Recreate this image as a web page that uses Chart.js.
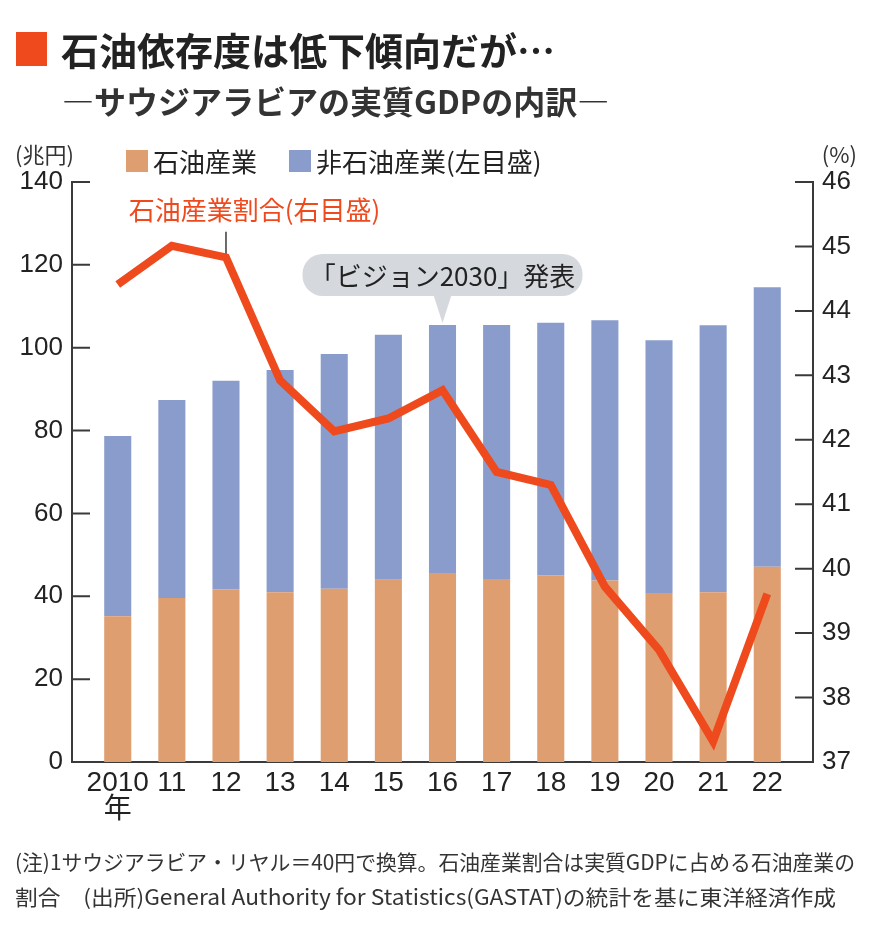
<!DOCTYPE html>
<html lang="ja">
<head>
<meta charset="utf-8">
<script src="https://cdn.jsdelivr.net/npm/chart.js@4.4.1/dist/chart.umd.min.js"></script>
<style>
body { margin: 0; background: #fff; font-family: 'Noto Sans CJK JP', sans-serif; color: #222; }
#wrap { position: relative; width: 870px; height: 946px; overflow: hidden; }
#myChart { position: absolute; left: 0; top: 0; }
.txt { position: absolute; white-space: nowrap; line-height: 1; }
.fit { transform-origin: 0 50%; }
</style>
</head>
<body>
<div id="wrap">
  <canvas id="myChart" width="870" height="946"></canvas>
  <div class="txt" style="left:16px;top:32px;width:31px;height:34px;background:#EF4A1D"></div>
  <div class="txt" style="left:61px;top:30px;font-size:38px;font-weight:700;color:#222">石油依存度は低下傾向だが…</div>
  <div class="txt" style="left:62px;top:84px;font-size:32px;font-weight:700;color:#333">—サウジアラビアの実質GDPの内訳—</div>
  <div class="txt" style="left:15px;top:142px;font-size:22px;color:#333">(兆円)</div>
  <div class="txt" style="right:13px;top:142px;font-size:22px;color:#333">(%)</div>
  <div class="txt" style="left:126px;top:150px;width:22px;height:22px;background:#DF9E70"></div>
  <div class="txt" style="left:153px;top:148px;font-size:26px;color:#222">石油産業</div>
  <div class="txt" style="left:289px;top:150px;width:22px;height:22px;background:#899CCB"></div>
  <div class="txt" style="left:316px;top:148px;font-size:26px;color:#222">非石油産業(左目盛)</div>
  <div class="txt fit" data-w="840" style="left:15px;top:851px;font-size:21px;color:#333">(注)1サウジアラビア・リヤル＝40円で換算。石油産業割合は実質GDPに占める石油産業の</div>
  <div class="txt fit" data-w="821" style="left:15px;top:886px;font-size:21px;color:#333">割合　(出所)General Authority for Statistics(GASTAT)の統計を基に東洋経済作成</div>
</div>
<script>
var years = [2010, 2011, 2012, 2013, 2014, 2015, 2016, 2017, 2018, 2019, 2020, 2021, 2022];
var yearLabels = [['2010', '年'], '11', '12', '13', '14', '15', '16', '17', '18', '19', '20', '21', '22'];
// 兆円
var oilValues = [35.2, 39.6, 41.7, 41.0, 41.8, 44.0, 45.6, 44.2, 45.1, 43.8, 40.8, 41.0, 47.1];
var nonOilValues = [43.5, 47.8, 50.3, 53.6, 56.7, 59.1, 59.9, 61.3, 60.9, 62.8, 61.0, 64.4, 67.5];
// %
var oilShare = [44.41, 45.01, 44.83, 42.92, 42.13, 42.33, 42.77, 41.50, 41.30, 39.72, 38.74, 37.32, 39.61];
var visionYear = 2016;
var shareLabelYear = 2012;

var oilColor = '#DF9E70';
var nonOilColor = '#899CCB';
var lineColor = '#EF4A1D';
var axisColor = '#3a3a3a';
var numFont = "'Liberation Sans', 'Noto Sans CJK JP', sans-serif";
var jpFont = "'Noto Sans CJK JP', sans-serif";

function toPoints(vals) {
  return years.map(function (y, i) { return { x: y, y: vals[i] }; });
}

// inward tick marks on both value axes, plus the label leader
var tickMarks = {
  id: 'tickMarks',
  beforeDatasetsDraw: function (chart) {
    var ctx = chart.ctx, a = chart.chartArea;
    var ys = chart.scales.y, y2 = chart.scales.y2;
    ctx.save();
    ctx.strokeStyle = axisColor;
    ctx.lineWidth = 2;
    ctx.beginPath();
    ys.ticks.forEach(function (t) {
      var p = ys.getPixelForValue(t.value);
      ctx.moveTo(a.left, p); ctx.lineTo(a.left + 18, p);
    });
    y2.ticks.forEach(function (t) {
      var p = y2.getPixelForValue(t.value);
      ctx.moveTo(a.right - 18, p); ctx.lineTo(a.right, p);
    });
    ctx.stroke();

    var i = years.indexOf(shareLabelYear);
    var lx = chart.scales.x.getPixelForValue(shareLabelYear);
    ctx.lineWidth = 1.5;
    ctx.beginPath();
    ctx.moveTo(lx, y2.getPixelForValue(45.57) + 22);
    ctx.lineTo(lx, y2.getPixelForValue(oilShare[i]));
    ctx.stroke();
    ctx.restore();
  },
  afterDatasetsDraw: function (chart) {
    var ctx = chart.ctx;
    var xs = chart.scales.x, ys = chart.scales.y, y2 = chart.scales.y2;
    ctx.save();
    ctx.fillStyle = lineColor;
    ctx.font = '26px ' + jpFont;
    ctx.textAlign = 'left';
    ctx.textBaseline = 'middle';
    ctx.fillText('石油産業割合(右目盛)', xs.getPixelForValue(years[0]) + 11, y2.getPixelForValue(45.57));

    // callout for Vision 2030
    var i = years.indexOf(visionYear);
    var cx = xs.getPixelForValue(visionYear);
    var tip = ys.getPixelForValue(oilValues[i] + nonOilValues[i]) - 2;
    var bottom = tip - 27, h = 42, w = 280;
    ctx.fillStyle = '#D5D9DE';
    ctx.beginPath();
    ctx.roundRect(cx - w / 2, bottom - h, w, h, 20);
    ctx.fill();
    ctx.beginPath();
    ctx.moveTo(cx - 9, bottom - 1);
    ctx.lineTo(cx + 9, bottom - 1);
    ctx.lineTo(cx, tip);
    ctx.closePath();
    ctx.fill();
    ctx.fillStyle = '#222';
    ctx.textAlign = 'center';
    ctx.fillText('「ビジョン2030」発表', cx, bottom - h / 2 + 1);
    ctx.restore();
  }
};

var data = {
  datasets: [{
    type: 'line',
    label: '石油産業割合',
    data: toPoints(oilShare),
    yAxisID: 'y2',
    borderColor: lineColor,
    borderWidth: 8,
    pointRadius: 0,
    tension: 0,
    borderJoinStyle: 'miter',
    order: 0
  }, {
    label: '石油産業',
    data: toPoints(oilValues),
    backgroundColor: oilColor,
    stack: 'gdp',
    order: 1
  }, {
    label: '非石油産業',
    data: toPoints(nonOilValues),
    backgroundColor: nonOilColor,
    stack: 'gdp',
    order: 2
  }]
};

var config = {
  type: 'bar',
  data: data,
  options: {
    responsive: false,
    animation: false,
    categoryPercentage: 1,
    barPercentage: 0.5,
    layout: { padding: { top: 182, bottom: 100, left: 0, right: 0 } },
    plugins: {
      legend: { display: false },
      tooltip: { enabled: false },
      title: { display: false }
    },
    scales: {
      x: {
        type: 'linear',
        offset: false,
        stacked: true,
        min: years[0] - 0.845,
        max: years[years.length - 1] + 0.845,
        afterBuildTicks: function (s) { s.ticks = years.map(function (v) { return { value: v }; }); },
        afterFit: function (s) { s.height = 84; },
        grid: { display: false, offset: false, drawTicks: false },
        border: { display: true, color: axisColor, width: 2 },
        ticks: {
          autoSkip: false,
          maxRotation: 0,
          padding: 8,
          color: '#222',
          font: { family: numFont, size: 28, lineHeight: 0.97 },
          callback: function (v, i) { return yearLabels[i]; }
        }
      },
      y: {
        position: 'left',
        stacked: true,
        min: 0,
        max: 140,
        afterFit: function (s) { s.width = 72; },
        grid: { display: false, drawTicks: false },
        border: { display: true, color: axisColor, width: 2 },
        ticks: { stepSize: 20, padding: 9, color: '#222', font: { family: numFont, size: 26 } }
      },
      y2: {
        position: 'right',
        min: 37,
        max: 46,
        afterFit: function (s) { s.width = 57; },
        grid: { display: false, drawTicks: false },
        border: { display: true, color: axisColor, width: 2 },
        ticks: { stepSize: 1, padding: 9, color: '#222', font: { family: numFont, size: 26 } }
      }
    }
  },
  plugins: [tickMarks]
};

var myChart = new Chart(document.getElementById('myChart'), config);

// squeeze the footnote lines to the width used in the print layout
document.querySelectorAll('.fit').forEach(function (el) {
  var w = el.getBoundingClientRect().width;
  el.style.transform = 'scaleX(' + (el.dataset.w / w) + ')';
});
</script>
</body>
</html>
